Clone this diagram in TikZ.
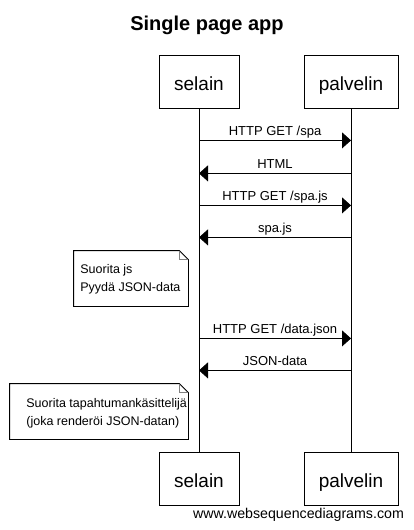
\documentclass[tikz,border=0pt]{standalone}
\usepackage{fontspec}
\setmainfont{Liberation Sans}
\usetikzlibrary{arrows.meta}

\newcommand{\dogear}[1]{%
  \draw (#1.north west) -- ([xshift=-9pt]#1.north east) -- ([yshift=-9pt]#1.north east)
    -- (#1.south east) -- (#1.south west) -- cycle;
  \draw[gray] ([xshift=-9pt]#1.north east) -- ([xshift=-9pt,yshift=-9pt]#1.north east)
    -- ([yshift=-9pt]#1.north east);}

\begin{document}
\begin{tikzpicture}[x=1pt, y=-1pt, line width=0.8pt,
        every node/.append style={font=\fontsize{12.5}{18}\selectfont}]
      \tikzstyle{actor} = [draw, minimum height=53, inner sep=0pt, text height=18pt, text depth=0pt,
        font=\fontsize{19}{22}\selectfont]
      \tikzstyle{msg} = [-{Triangle[length=9pt,width=16pt]}]
      \tikzstyle{label} = [above, inner ysep=1pt, text height=9pt, text depth=3.5pt,
        font=\fontsize{13}{16}\selectfont]
      \tikzstyle{notebox} = [inner sep=0pt, minimum height=55]
      \tikzstyle{notetext} = [anchor=west, align=left, inner sep=0pt]
      \useasboundingbox (0,0) rectangle (413,530);
      \node (title) [anchor=base, font=\fontsize{20}{24}\selectfont\bfseries] at (207,30) {Single page app};
      % participants
      \node (selainA) [actor, minimum width=80] at (199,81.5) {selain};
      \node (palvelinA) [actor, minimum width=94] at (351,81.5) {palvelin};
      \node (selainB) [actor, minimum width=80] at (199,478.5) {selain};
      \node (palvelinB) [actor, minimum width=94] at (351,478.5) {palvelin};
      \draw (selainA) -- (selainB);
      \draw (palvelinA) -- (palvelinB);
      % messages
      \draw[msg] ([yshift=-32pt]selainA.south) -- node[label] {HTTP GET /spa} ([yshift=-32pt]palvelinA.south);
      \draw[msg] ([yshift=-65pt]palvelinA.south) -- node[label] {HTML} ([yshift=-65pt]selainA.south);
      \draw[msg] ([yshift=-97pt]selainA.south) -- node[label] {HTTP GET /spa.js} ([yshift=-97pt]palvelinA.south);
      \draw[msg] ([yshift=-129pt]palvelinA.south) -- node[label] {spa.js} ([yshift=-129pt]selainA.south);
      \draw[msg] ([yshift=-230pt]selainA.south) -- node[label] {HTTP GET /data.json} ([yshift=-230pt]palvelinA.south);
      \draw[msg] ([yshift=-262pt]palvelinA.south) -- node[label] {JSON-data} ([yshift=-262pt]selainA.south);
      % notes
      \node (jsnote) [notebox, minimum width=114] at (131,278.5) {};
      \dogear{jsnote}
      \node (jstext) [notetext] at (80,279) {Suorita js\\Pyydä JSON-data};
      \node (rendernote) [notebox, minimum width=178] at (99,411.5) {};
      \dogear{rendernote}
      \node (rendertext) [notetext] at (26,413) {Suorita tapahtumankäsittelijä\\(joka renderöi JSON-datan)};
      \node (footer) [font=\fontsize{14.2}{17}\selectfont] at (298.5,515) {www.websequencediagrams.com};
    \end{tikzpicture}
\end{document}
